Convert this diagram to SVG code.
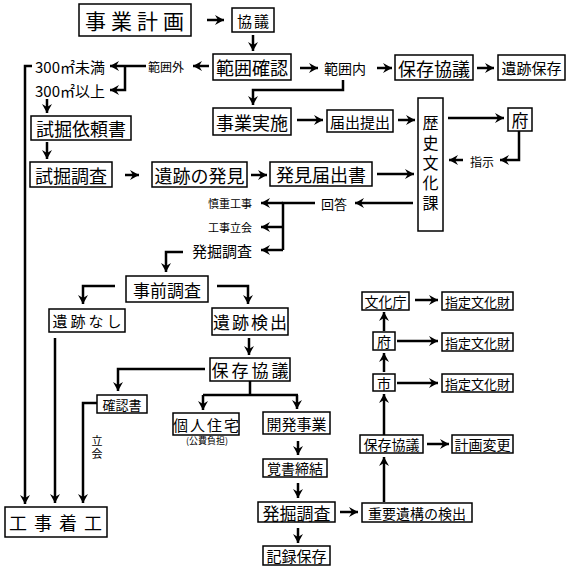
<svg xmlns="http://www.w3.org/2000/svg" width="570" height="566" viewBox="0 0 570 566">
<defs>
<marker id="ah" markerUnits="userSpaceOnUse" markerWidth="11" markerHeight="11" refX="9" refY="5" orient="auto">
<path d="M0,0 L9,5 L0,10 L3,5 z" fill="#000"/>
</marker>
<style>
rect{fill:#fff;stroke:#000;stroke-width:1.5}
text{font-family:"Noto Sans CJK JP","Noto Sans CJK SC",sans-serif;fill:#000;text-anchor:middle;dominant-baseline:central}
#connectors path,#connectors line{fill:none;stroke:#000;stroke-width:2.5}
.a{marker-end:url(#ah)}
</style>
</defs>
<rect x="0" y="0" width="570" height="566" style="stroke:none"/>
<g id="connectors">
<line class="a" x1="207" y1="20" x2="224" y2="20"/>
<line class="a" x1="253" y1="35" x2="253" y2="51"/>
<line class="a" x1="300" y1="68" x2="318" y2="68"/>
<path class="a" d="M343,80 V90 H253 V105"/>
<line class="a" x1="377" y1="68" x2="392" y2="68"/>
<line class="a" x1="477" y1="68" x2="494" y2="68"/>
<line class="a" x1="209" y1="66" x2="193" y2="66"/>
<line class="a" x1="146" y1="66" x2="110" y2="66"/>
<path class="a" d="M125,66 V90 H110"/>
<path class="a" d="M32,66 H25 V504"/>
<line class="a" x1="47" y1="99" x2="47" y2="113"/>
<line class="a" x1="47" y1="142" x2="47" y2="159"/>
<line class="a" x1="125" y1="175" x2="139" y2="175"/>
<line class="a" x1="251" y1="175" x2="267" y2="175"/>
<line class="a" x1="297" y1="120" x2="323" y2="120"/>
<line class="a" x1="398" y1="120" x2="415" y2="120"/>
<line class="a" x1="448" y1="118" x2="504" y2="118"/>
<path class="a" d="M519,131 V160 H500"/>
<line class="a" x1="463" y1="160" x2="449" y2="160"/>
<line class="a" x1="377" y1="174" x2="414" y2="174"/>
<line class="a" x1="413" y1="203" x2="355" y2="203"/>
<path d="M315,203 H283 V250"/>
<line class="a" x1="283" y1="203" x2="261" y2="203"/>
<line class="a" x1="283" y1="227" x2="261" y2="227"/>
<line class="a" x1="283" y1="250" x2="261" y2="250"/>
<path class="a" d="M183,252 H166 V272"/>
<path class="a" d="M115,286 H83 V304"/>
<path class="a" d="M217,286 H248 V304"/>
<line class="a" x1="249" y1="338" x2="249" y2="355"/>
<path class="a" d="M205,369 H118 V391"/>
<path d="M250,381 V395 M203,395 H298"/>
<line class="a" x1="203" y1="395" x2="203" y2="410"/>
<line class="a" x1="297" y1="395" x2="297" y2="409"/>
<path class="a" d="M97,403 H83 V503"/>
<line class="a" x1="55" y1="338" x2="55" y2="503"/>
<line class="a" x1="298" y1="441" x2="298" y2="455"/>
<line class="a" x1="298" y1="483" x2="298" y2="498"/>
<line class="a" x1="298" y1="528" x2="298" y2="543"/>
<line class="a" x1="340" y1="512" x2="358" y2="512"/>
<line class="a" x1="384" y1="502" x2="384" y2="457"/>
<line class="a" x1="427" y1="444" x2="449" y2="444"/>
<line class="a" x1="384" y1="435" x2="384" y2="394"/>
<line class="a" x1="384" y1="372" x2="384" y2="353"/>
<line class="a" x1="384" y1="331" x2="384" y2="312"/>
<line class="a" x1="415" y1="300" x2="438" y2="300"/>
<line class="a" x1="397" y1="341" x2="438" y2="341"/>
<line class="a" x1="397" y1="383" x2="438" y2="383"/>
</g>
<g id="n-jigyokeikaku"><rect x="79" y="4" width="112" height="32"/><text x="137" y="20" font-size="21" letter-spacing="5">事業計画</text></g>
<g id="n-kyogi"><rect x="232" y="8" width="42" height="24"/><text x="254" y="20" font-size="15" letter-spacing="2">協議</text></g>
<g id="n-hanikakunin"><rect x="213" y="54" width="78" height="26"/><text x="252" y="67" font-size="18">範囲確認</text></g>
<g id="l-hanninai"><text x="345" y="68" font-size="14">範囲内</text></g>
<g id="n-hozonkyogi1"><rect x="395" y="55" width="78" height="25"/><text x="434" y="67.5" font-size="18">保存協議</text></g>
<g id="n-isekihozon"><rect x="498" y="55" width="67" height="25"/><text x="531.5" y="67.5" font-size="15">遺跡保存</text></g>
<g id="l-hangai"><text x="166" y="66" font-size="12">範囲外</text></g>
<g id="l-300a"><text x="35" y="66" font-size="15" style="text-anchor:start">300㎡未満</text></g>
<g id="l-300b"><text x="35" y="90" font-size="15" style="text-anchor:start">300㎡以上</text></g>
<g id="n-shikutsuirai"><rect x="31" y="116" width="100" height="24"/><text x="81" y="128" font-size="18">試掘依頼書</text></g>
<g id="n-shikutsuchosa"><rect x="30" y="162" width="82" height="25"/><text x="71" y="174.5" font-size="18">試掘調査</text></g>
<g id="n-isekihakken"><rect x="152" y="162" width="95" height="25"/><text x="199.5" y="174.5" font-size="18">遺跡の発見</text></g>
<g id="n-hakkentodoke"><rect x="270" y="162" width="102" height="24"/><text x="321" y="174" font-size="18">発見届出書</text></g>
<g id="n-jigyojisshi"><rect x="213" y="108" width="78" height="27"/><text x="252" y="121.5" font-size="18">事業実施</text></g>
<g id="n-todoketeishutsu"><rect x="327" y="110" width="66" height="22"/><text x="360" y="121" font-size="15">届出提出</text></g>
<g id="n-rekishibunka"><rect x="418" y="98" width="25" height="133"/>
<text x="430.5" y="122" font-size="16">歴</text><text x="430.5" y="142" font-size="16">史</text><text x="430.5" y="162" font-size="16">文</text><text x="430.5" y="182" font-size="16">化</text><text x="430.5" y="202" font-size="16">課</text></g>
<g id="n-fu1"><rect x="508" y="108" width="24" height="23"/><text x="520" y="119.5" font-size="17">府</text></g>
<g id="l-shiji"><text x="482" y="161" font-size="12">指示</text></g>
<g id="l-kaito"><text x="334" y="203" font-size="13">回答</text></g>
<g id="l-shincho"><text x="230" y="203" font-size="11">慎重工事</text></g>
<g id="l-tachiai"><text x="230" y="227" font-size="11">工事立会</text></g>
<g id="l-hakkutsu1"><text x="222" y="250" font-size="15">発掘調査</text></g>
<g id="n-jizenchosa"><rect x="126" y="276" width="82" height="26"/><text x="167" y="289" font-size="17">事前調査</text></g>
<g id="n-isekinashi"><rect x="49" y="309" width="76" height="23"/><text x="88.5" y="320.5" font-size="15" letter-spacing="3">遺跡なし</text></g>
<g id="n-isekikenshutsu"><rect x="212" y="308" width="76" height="27"/><text x="251" y="321.5" font-size="17" letter-spacing="2">遺跡検出</text></g>
<g id="n-hozonkyogi2"><rect x="210" y="358" width="80" height="23"/><text x="251.5" y="369.5" font-size="17" letter-spacing="3">保存協議</text></g>
<g id="n-kakuninsho"><rect x="97" y="395" width="50" height="18"/><text x="122" y="404" font-size="13">確認書</text></g>
<g id="n-kojinjutaku"><rect x="173" y="413" width="66" height="22"/><text x="207" y="424" font-size="15" letter-spacing="2">個人住宅</text>
<text x="207" y="440" font-size="9">(公費負担)</text></g>
<g id="n-kaihatsu"><rect x="263" y="412" width="67" height="22"/><text x="296.5" y="423" font-size="15">開発事業</text></g>
<g id="n-oboegaki"><rect x="263" y="459" width="64" height="18"/><text x="295" y="468" font-size="14">覚書締結</text></g>
<g id="n-hakkutsu2"><rect x="258" y="502" width="77" height="20"/><text x="296.5" y="512" font-size="17">発掘調査</text></g>
<g id="n-kirokuhozon"><rect x="263" y="546" width="67" height="19"/><text x="296.5" y="555.5" font-size="15">記録保存</text></g>
<g id="n-juyoiko"><rect x="362" y="503" width="110" height="19"/><text x="417" y="512.5" font-size="14">重要遺構の検出</text></g>
<g id="n-hozonkyogi3"><rect x="360" y="435" width="63" height="18"/><text x="391.5" y="444" font-size="14">保存協議</text></g>
<g id="n-keikakuhenko"><rect x="452" y="435" width="61" height="18"/><text x="482.5" y="444" font-size="14">計画変更</text></g>
<g id="n-bunkacho"><rect x="362" y="292" width="47" height="18"/><text x="385.5" y="301" font-size="14">文化庁</text></g>
<g id="n-fu2"><rect x="373" y="332" width="22" height="18"/><text x="384" y="341" font-size="14">府</text></g>
<g id="n-shi"><rect x="373" y="374" width="22" height="17"/><text x="384" y="382.5" font-size="14">市</text></g>
<g id="n-shitei1"><rect x="442" y="292" width="71" height="18"/><text x="477.5" y="301" font-size="13">指定文化財</text></g>
<g id="n-shitei2"><rect x="442" y="333" width="71" height="18"/><text x="477.5" y="342" font-size="13">指定文化財</text></g>
<g id="n-shitei3"><rect x="442" y="374" width="71" height="18"/><text x="477.5" y="383" font-size="13">指定文化財</text></g>
<g id="n-kojichakko"><rect x="5" y="507" width="102" height="30"/><text x="59" y="522" font-size="18" letter-spacing="7">工事着工</text></g>
<g id="l-tachiai2"><text x="97" y="440" font-size="11">立</text><text x="97" y="453" font-size="11">会</text></g>
</svg>
